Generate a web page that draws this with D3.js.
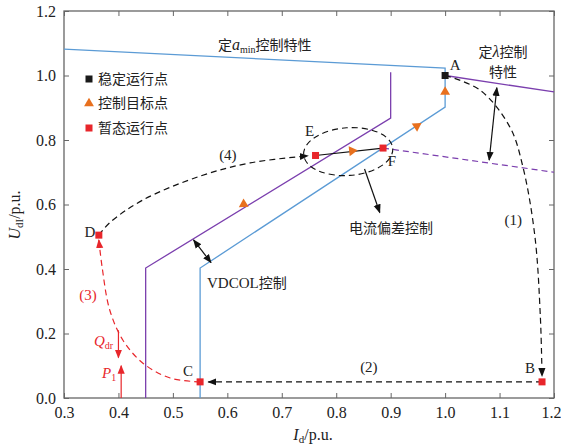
<!DOCTYPE html>
<html>
<head>
<meta charset="utf-8">
<script src="https://cdn.jsdelivr.net/npm/d3@7"></script>
<style>
  body { margin: 0; background: #fff; }
  svg text { font-family: "Liberation Serif", "DejaVu Serif", serif; fill: #222; }
  svg text.cjk { font-family: "Noto Sans CJK SC", sans-serif; }
</style>
</head>
<body>
<div id="chart"></div>
<script>
// axis ticks
const xTicks = [0.3, 0.4, 0.5, 0.6, 0.7, 0.8, 0.9, 1.0, 1.1, 1.2];
const yTicks = [0.0, 0.2, 0.4, 0.6, 0.8, 1.0, 1.2];

// characteristics (Id, Ud)
const blueLine = [[0.3, 1.082], [1.0, 1.023], [1.0, 0.902], [0.55, 0.403], [0.55, 0.0]];
const purpleVdcol = [[0.45, 0.0], [0.45, 0.403], [0.9, 0.868], [0.9, 1.01]];
const purpleLambda = [[1.0, 1.0], [1.2, 0.949]];
const purpleDashed = [[0.886, 0.775], [1.2, 0.70]];

// operating points
const stablePts = [{ name: "A", x: 1.0, y: 1.0, lx: 10, ly: -9 }];
const transientPts = [
  { name: "B", x: 1.178, y: 0.05, lx: -12, ly: -12 },
  { name: "C", x: 0.55, y: 0.05, lx: -12, ly: -9 },
  { name: "D", x: 0.364, y: 0.505, lx: -9, ly: -2 },
  { name: "E", x: 0.762, y: 0.752, lx: -6, ly: -23 },
  { name: "F", x: 0.886, y: 0.775, lx: 9, ly: 14 }
];
// control target points with direction (dx, dy in data)
const targetPts = [
  { x: 1.0, y: 0.949, dx: 0, dy: 1 },
  { x: 0.948, y: 0.843, dx: 0.45, dy: 0.5 },
  { x: 0.829, y: 0.766, dx: 1, dy: 0.18 },
  { x: 0.63, y: 0.601, dx: -0.45, dy: -0.47 }
];

// trajectories
const path1 = [[1.0, 1.0], [1.064, 0.955], [1.119, 0.84], [1.143, 0.716], [1.165, 0.5], [1.175, 0.25], [1.178, 0.068]];
const path2 = [[1.178, 0.05], [0.565, 0.05]];
const path3 = [[0.55, 0.05], [0.495, 0.062], [0.445, 0.108], [0.408, 0.18], [0.384, 0.273], [0.37, 0.406], [0.364, 0.49]];
const path4 = [[0.364, 0.505], [0.385, 0.545], [0.445, 0.614], [0.55, 0.688], [0.642, 0.729], [0.748, 0.751]];

// annotation arrows (data coords)
const lambdaArrow = [[1.095, 0.962], [1.081, 0.738]];
const vdcolArrow = [[0.538, 0.49], [0.57, 0.42]];
const ellipseArrow = [[0.852, 0.71], [0.88, 0.575]];
const qArrow = [[0.4, 0.21], [0.4, 0.125]];
const pArrow = [[0.405, 0.0], [0.405, 0.1]];

const W = 561, H = 447;
const M = { LEFT: 64, RIGHT: 7, TOP: 11, BOTTOM: 49 };

const svg = d3.select("#chart").append("svg")
  .attr("width", W).attr("height", H);

const x = d3.scaleLinear().domain([0.3, 1.2]).range([M.LEFT, W - M.RIGHT]);
const y = d3.scaleLinear().domain([0, 1.2]).range([H - M.BOTTOM, M.TOP]);

const defs = svg.append("defs");
function marker(id, color) {
  defs.append("marker")
    .attr("id", id)
    .attr("viewBox", "0 0 10 10")
    .attr("refX", 9).attr("refY", 5)
    .attr("markerWidth", 9).attr("markerHeight", 9)
    .attr("markerUnits", "userSpaceOnUse")
    .attr("orient", "auto-start-reverse")
    .append("path")
    .attr("d", "M0,1 L10,5 L0,9 Z")
    .attr("fill", color);
}
marker("arrB", "#111");
marker("arrR", "#e8262b");

// frame and ticks
const axisColor = "#666";
svg.append("rect")
  .attr("x", x(0.3)).attr("y", y(1.2))
  .attr("width", x(1.2) - x(0.3)).attr("height", y(0) - y(1.2))
  .attr("fill", "none").attr("stroke", axisColor).attr("stroke-width", 1.3);

const xAxis = svg.append("g").attr("transform", `translate(0,${y(0)})`)
  .call(d3.axisBottom(x).tickValues(xTicks).tickSize(-5).tickPadding(9).tickFormat(d3.format(".1f")));
const xAxisTop = svg.append("g").attr("transform", `translate(0,${y(1.2)})`)
  .call(d3.axisTop(x).tickValues(xTicks).tickSize(-5).tickFormat(""));
const yAxis = svg.append("g").attr("transform", `translate(${x(0.3)},0)`)
  .call(d3.axisLeft(y).tickValues(yTicks).tickSize(-5).tickPadding(8).tickFormat(d3.format(".1f")));
const yAxisR = svg.append("g").attr("transform", `translate(${x(1.2)},0)`)
  .call(d3.axisRight(y).tickValues(yTicks).tickSize(-5).tickFormat(""));
[xAxis, xAxisTop, yAxis, yAxisR].forEach(g => {
  g.attr("font-family", "Liberation Serif").attr("font-size", 16);
  g.select(".domain").remove();
  g.selectAll(".tick line").attr("stroke", axisColor);
  g.selectAll(".tick text").attr("fill", "#333").style("font-family", "'Liberation Serif', serif");
});
xAxis.selectAll(".tick text").filter(d => d === 1.2).attr("dx", -3);

const line = d3.line().x(d => x(d[0])).y(d => y(d[1]));
const curve = d3.line().x(d => x(d[0])).y(d => y(d[1])).curve(d3.curveCatmullRom);

// characteristics
svg.append("path").attr("d", line(blueLine))
  .attr("fill", "none").attr("stroke", "#5b9bd5").attr("stroke-width", 1.3);
svg.append("path").attr("d", line(purpleVdcol))
  .attr("fill", "none").attr("stroke", "#7b3fae").attr("stroke-width", 1.3);
svg.append("path").attr("d", line(purpleLambda))
  .attr("fill", "none").attr("stroke", "#7b3fae").attr("stroke-width", 1.3);
svg.append("path").attr("d", line(purpleDashed))
  .attr("fill", "none").attr("stroke", "#7b3fae").attr("stroke-width", 1.2)
  .attr("stroke-dasharray", "6,4");

// trajectories
function dashed(pts, gen, color, mk) {
  svg.append("path").attr("d", gen(pts))
    .attr("fill", "none").attr("stroke", color).attr("stroke-width", 1.2)
    .attr("stroke-dasharray", "6,4").attr("marker-end", `url(#${mk})`);
}
dashed(path1, curve, "#111", "arrB");
dashed(path2, line, "#111", "arrB");
dashed(path3, curve, "#e8262b", "arrR");
dashed(path4, curve, "#111", "arrB");

// E -> F solid
const E = transientPts[3], F = transientPts[4];
svg.append("path").attr("d", line([[E.x, E.y], [F.x, F.y]]))
  .attr("stroke", "#111").attr("stroke-width", 1.2);

// ellipse around E-F
svg.append("ellipse")
  .attr("cx", x(0.822)).attr("cy", y(0.764))
  .attr("rx", x(0.822 + 0.082) - x(0.822)).attr("ry", y(0.764) - y(0.764 + 0.074))
  .attr("transform", `rotate(-4,${x(0.822)},${y(0.764)})`)
  .attr("fill", "none").attr("stroke", "#111").attr("stroke-width", 1.1)
  .attr("stroke-dasharray", "6,4");

// annotation arrows
function arrow(pts, both, color, mk) {
  const p = svg.append("path").attr("d", line(pts))
    .attr("stroke", color).attr("stroke-width", 1.2)
    .attr("marker-end", `url(#${mk})`);
  if (both) p.attr("marker-start", `url(#${mk})`);
}
arrow(lambdaArrow, true, "#111", "arrB");
arrow(vdcolArrow, true, "#111", "arrB");
arrow(ellipseArrow, false, "#111", "arrB");
arrow(qArrow, false, "#e8262b", "arrR");
arrow(pArrow, false, "#e8262b", "arrR");

// control target triangles
const tri = d3.symbol().type(d3.symbolTriangle).size(42);
svg.selectAll(".target").data(targetPts).join("path")
  .attr("class", "target")
  .attr("d", tri)
  .attr("fill", "#e8701e")
  .attr("transform", d => {
    const sx = x(d.x + d.dx * 0.01) - x(d.x), sy = y(d.y + d.dy * 0.01) - y(d.y);
    const ang = Math.atan2(sx, -sy) * 180 / Math.PI;
    return `translate(${x(d.x)},${y(d.y)}) rotate(${ang})`;
  });

// operating points
svg.selectAll(".stable").data(stablePts).join("rect")
  .attr("x", d => x(d.x) - 3.5).attr("y", d => y(d.y) - 3.5)
  .attr("width", 7).attr("height", 7).attr("fill", "#1a1a1a");
svg.selectAll(".trans").data(transientPts).join("rect")
  .attr("x", d => x(d.x) - 3.5).attr("y", d => y(d.y) - 3.5)
  .attr("width", 7).attr("height", 7).attr("fill", "#e8262b");
svg.selectAll(".ptlabel").data(stablePts.concat(transientPts)).join("text")
  .attr("x", d => x(d.x) + d.lx).attr("y", d => y(d.y) + d.ly)
  .attr("text-anchor", "middle").attr("dominant-baseline", "middle")
  .attr("font-size", 15).text(d => d.name);

// legend
const legend = [
  { label: "稳定运行点", shape: "sq", color: "#1a1a1a" },
  { label: "控制目标点", shape: "tri", color: "#e8701e" },
  { label: "暂态运行点", shape: "sq", color: "#e8262b" }
];
const lg = svg.append("g").attr("transform", "translate(89,79)");
legend.forEach((d, i) => {
  const g = lg.append("g").attr("transform", `translate(0,${i * 24.5})`);
  if (d.shape === "sq") g.append("rect").attr("x", -3.5).attr("y", -3.5).attr("width", 7).attr("height", 7).attr("fill", d.color);
  else g.append("path").attr("d", tri).attr("fill", d.color);
  g.append("text").attr("class", "cjk").attr("x", 9).attr("y", 1)
    .attr("dominant-baseline", "middle").attr("font-size", 14).text(d.label);
});

// annotations
const amin = svg.append("text").attr("x", 218).attr("y", 50).attr("font-size", 14);
amin.append("tspan").style("font-family", "Noto Sans CJK SC").text("定");
amin.append("tspan").attr("font-style", "italic").attr("font-size", 16).text("a");
amin.append("tspan").attr("font-size", 10).attr("dy", 3).text("min");
amin.append("tspan").attr("dy", -3).style("font-family", "Noto Sans CJK SC").text("控制特性");

const lam = svg.append("text").attr("x", 503).attr("y", 57).attr("text-anchor", "middle").attr("font-size", 14);
lam.append("tspan").style("font-family", "Noto Sans CJK SC").text("定");
lam.append("tspan").attr("font-style", "italic").attr("font-size", 16).text("λ");
lam.append("tspan").style("font-family", "Noto Sans CJK SC").text("控制");
svg.append("text").attr("class", "cjk").attr("x", 503).attr("y", 77)
  .attr("text-anchor", "middle").attr("font-size", 14).text("特性");

svg.append("text").attr("class", "cjk").attr("x", 391).attr("y", 233)
  .attr("text-anchor", "middle").attr("font-size", 14).text("电流偏差控制");

const vd = svg.append("text").attr("x", 207).attr("y", 288).attr("font-size", 14);
vd.append("tspan").attr("font-size", 15).text("VDCOL");
vd.append("tspan").style("font-family", "Noto Sans CJK SC").text("控制");

const stepLabels = [
  { t: "(1)", px: 1.125, py: 0.546, c: "#222" },
  { t: "(2)", px: 0.86, py: 0.09, c: "#222" },
  { t: "(3)", px: 0.344, py: 0.316, c: "#e8262b" },
  { t: "(4)", px: 0.601, py: 0.75, c: "#222" }
];
svg.selectAll(".step").data(stepLabels).join("text")
  .attr("x", d => x(d.px)).attr("y", d => y(d.py))
  .attr("text-anchor", "middle").attr("dominant-baseline", "middle")
  .attr("font-size", 15).style("fill", d => d.c).text(d => d.t);

const q = svg.append("text").attr("x", 94).attr("y", 346).style("fill", "#e8262b").attr("font-size", 15);
q.append("tspan").attr("font-style", "italic").text("Q");
q.append("tspan").attr("font-size", 10).attr("dy", 3).text("dr");
const p1 = svg.append("text").attr("x", 102).attr("y", 378).style("fill", "#e8262b").attr("font-size", 15);
p1.append("tspan").attr("font-style", "italic").text("P");
p1.append("tspan").attr("font-size", 10).attr("dy", 3).text("1");

// axis titles
const xt = svg.append("text").attr("x", 313).attr("y", 440).attr("text-anchor", "middle").attr("font-size", 16);
xt.append("tspan").attr("font-style", "italic").text("I");
xt.append("tspan").attr("font-size", 11).attr("dy", 3).text("d");
xt.append("tspan").attr("dy", -3).text("/p.u.");

const yt = svg.append("text").attr("transform", "translate(20,215) rotate(-90)")
  .attr("text-anchor", "middle").attr("font-size", 16);
yt.append("tspan").attr("font-style", "italic").text("U");
yt.append("tspan").attr("font-size", 11).attr("dy", 3).text("dI");
yt.append("tspan").attr("dy", -3).text("/p.u.");
</script>
</body>
</html>
